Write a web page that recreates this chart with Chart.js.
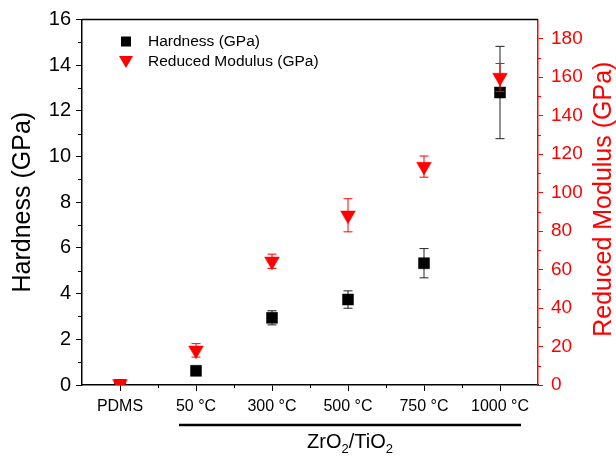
<!DOCTYPE html>
<html>
<head>
<meta charset="utf-8">
<script src="https://cdn.jsdelivr.net/npm/chart.js@4.4.1/dist/chart.umd.min.js"></script>
<style>
  html, body { margin: 0; padding: 0; background: #fff; }
  #wrap { width: 616px; height: 458px; }
</style>
</head>
<body>
<div id="wrap"><canvas id="chart" width="616" height="458"></canvas></div>
<script>
const categories = ['PDMS', '50 °C', '300 °C', '500 °C', '750 °C', '1000 °C'];
const hardness = [0, 0.62, 2.94, 3.74, 5.33, 12.8];
const hardnessErr = [0, 0.1, 0.31, 0.38, 0.64, 2.02];
const modulus = [0.6, 18.0, 64.3, 88.2, 113.5, 159.8];
const modulusErr = [0.3, 3.5, 3.7, 8.6, 5.5, 7.3];
const hardnessTicks = [0, 2, 4, 6, 8, 10, 12, 14, 16];
const modulusTicks = [0, 20, 40, 60, 80, 100, 120, 140, 160, 180];

const FONT = "'Liberation Sans', Arial, sans-serif";
const RED = '#ff0000';

// error bars go under each dataset's own markers
const errorBars = {
  id: 'errorBars',
  beforeDatasetDraw(chart, args) {
    const ds = chart.data.datasets[args.index];
    const yScale = chart.scales[ds.yAxisID];
    const ctx = chart.ctx;
    ctx.save();
    ctx.strokeStyle = ds.errColor;
    ctx.lineWidth = 1;
    args.meta.data.forEach((pt, i) => {
      const e = ds.errors[i];
      if (!e) return;
      const v = ds.data[i];
      const top = yScale.getPixelForValue(v + e);
      const bot = yScale.getPixelForValue(v - e);
      const x = pt.x;
      ctx.beginPath();
      ctx.moveTo(x, top); ctx.lineTo(x, bot);
      ctx.moveTo(x - 4.5, top); ctx.lineTo(x + 4.5, top);
      ctx.moveTo(x - 4.5, bot); ctx.lineTo(x + 4.5, bot);
      ctx.stroke();
    });
    ctx.restore();
  }
};

const decorations = {
  id: 'decorations',
  afterDraw(chart) {
    const ctx = chart.ctx;
    const area = chart.chartArea;
    const x = chart.scales.x, y = chart.scales.y, y1 = chart.scales.y1;
    ctx.save();

    // top frame line
    ctx.strokeStyle = '#000';
    ctx.lineWidth = 1.5;
    ctx.beginPath();
    ctx.moveTo(area.left, area.top);
    ctx.lineTo(area.right, area.top);
    ctx.stroke();

    // minor ticks
    ctx.lineWidth = 1;
    ctx.beginPath();
    for (let v = 1; v < 16; v += 2) {
      const py = Math.round(y.getPixelForValue(v)) + 0.5;
      ctx.moveTo(area.left, py); ctx.lineTo(area.left - 4, py);
    }
    for (let i = 0; i < categories.length - 1; i++) {
      const px = Math.round(x.getPixelForValue(i + 0.5)) + 0.5;
      ctx.moveTo(px, area.bottom); ctx.lineTo(px, area.bottom + 3);
    }
    ctx.stroke();
    ctx.strokeStyle = RED;
    ctx.beginPath();
    for (let v = 10; v < 180; v += 20) {
      const py = Math.round(y1.getPixelForValue(v)) + 0.5;
      ctx.moveTo(area.right, py); ctx.lineTo(area.right + 3, py);
    }
    ctx.stroke();

    // axis titles
    ctx.fillStyle = '#000';
    ctx.font = '25px ' + FONT;
    ctx.textAlign = 'center';
    ctx.textBaseline = 'middle';
    const midY = (area.top + area.bottom) / 2;
    ctx.save();
    ctx.translate(23, midY);
    ctx.rotate(-Math.PI / 2);
    ctx.fillText('Hardness (GPa)', 0, 0);
    ctx.restore();
    ctx.save();
    ctx.fillStyle = RED;
    ctx.translate(604, midY - 3);
    ctx.rotate(-Math.PI / 2);
    ctx.fillText('Reduced Modulus (GPa)', 0, 0);
    ctx.restore();

    // group line and label under the oxide samples
    const gx0 = x.getPixelForValue(1) - 17;
    const gx1 = x.getPixelForValue(5) + 21;
    ctx.lineWidth = 2.5;
    ctx.strokeStyle = '#000';
    ctx.beginPath();
    ctx.moveTo(gx0, 425); ctx.lineTo(gx1, 425);
    ctx.stroke();

    const parts = [['ZrO', 0], ['2', 1], ['/TiO', 0], ['2', 1]];
    const big = '20px ' + FONT, small = '13px ' + FONT;
    let w = 0;
    parts.forEach(([t, s]) => { ctx.font = s ? small : big; w += ctx.measureText(t).width; });
    let tx = (gx0 + gx1) / 2 - w / 2;
    ctx.textAlign = 'left';
    ctx.textBaseline = 'alphabetic';
    parts.forEach(([t, s]) => {
      ctx.font = s ? small : big;
      ctx.fillText(t, tx, s ? 453 : 448);
      tx += ctx.measureText(t).width;
    });

    // legend
    ctx.font = '15.5px ' + FONT;
    ctx.textBaseline = 'middle';
    ctx.fillStyle = '#000';
    ctx.fillRect(121, 36.5, 10, 10);
    ctx.fillText('Hardness (GPa)', 148, 42);
    ctx.fillStyle = RED;
    ctx.beginPath();
    ctx.moveTo(119, 56); ctx.lineTo(133, 56); ctx.lineTo(126, 68);
    ctx.closePath();
    ctx.fill();
    ctx.fillStyle = '#000';
    ctx.fillText('Reduced Modulus (GPa)', 148, 62);

    ctx.restore();
  }
};

new Chart(document.getElementById('chart'), {
  type: 'line',
  data: {
    labels: categories,
    datasets: [
      {
        label: 'Hardness (GPa)',
        data: hardness,
        errors: hardnessErr,
        errColor: '#222',
        yAxisID: 'y',
        showLine: false,
        pointStyle: 'rect',
        pointRadius: 7.8,
        pointBackgroundColor: '#000',
        pointBorderColor: '#000',
        pointBorderWidth: 0.5,
        clip: 0,
        order: 1
      },
      {
        label: 'Reduced Modulus (GPa)',
        data: modulus,
        errors: modulusErr,
        errColor: RED,
        yAxisID: 'y1',
        showLine: false,
        pointStyle: 'triangle',
        pointRotation: 180,
        pointRadius: 8.5,
        pointBackgroundColor: RED,
        pointBorderColor: RED,
        pointBorderWidth: 0.5,
        clip: 0,
        order: 0
      }
    ]
  },
  options: {
    responsive: false,
    animation: false,
    devicePixelRatio: 1,
    layout: { padding: { top: 16, left: 0, right: 0, bottom: 0 } },
    plugins: { legend: { display: false }, tooltip: { enabled: false } },
    scales: {
      x: {
        type: 'category',
        offset: true,
        grid: { offset: false, drawOnChartArea: false, tickLength: 6, color: '#000', lineWidth: 1 },
        border: { color: '#000', width: 1.5 },
        ticks: { color: '#000', font: { family: FONT, size: 16 }, padding: 6, maxRotation: 0, autoSkip: false },
        afterFit(s) { s.height = 73; }
      },
      y: {
        position: 'left',
        min: 0,
        max: 16,
        grid: {
          drawOnChartArea: false,
          tickLength: 6,
          color: '#000',
          tickColor: (c) => hardnessTicks.includes(c.tick.value) ? '#000' : 'rgba(0,0,0,0)'
        },
        border: { color: '#000', width: 1.5 },
        ticks: {
          stepSize: 1,
          color: '#000',
          font: { family: FONT, size: 20 },
          padding: 5,
          callback: (v) => hardnessTicks.includes(v) ? String(v) : ''
        },
        afterFit(s) { s.width = 82; }
      },
      y1: {
        position: 'right',
        min: 0,
        max: 190,
        grid: {
          drawOnChartArea: false,
          tickLength: 5,
          color: RED,
          tickColor: (c) => modulusTicks.includes(c.tick.value) ? RED : 'rgba(0,0,0,0)'
        },
        border: { color: RED, width: 1.5 },
        ticks: {
          stepSize: 10,
          color: RED,
          font: { family: FONT, size: 19 },
          padding: 8,
          callback: (v) => modulusTicks.includes(v) ? String(v) : ''
        },
        afterFit(s) { s.width = 78; }
      }
    }
  },
  plugins: [errorBars, decorations]
});
</script>
</body>
</html>
